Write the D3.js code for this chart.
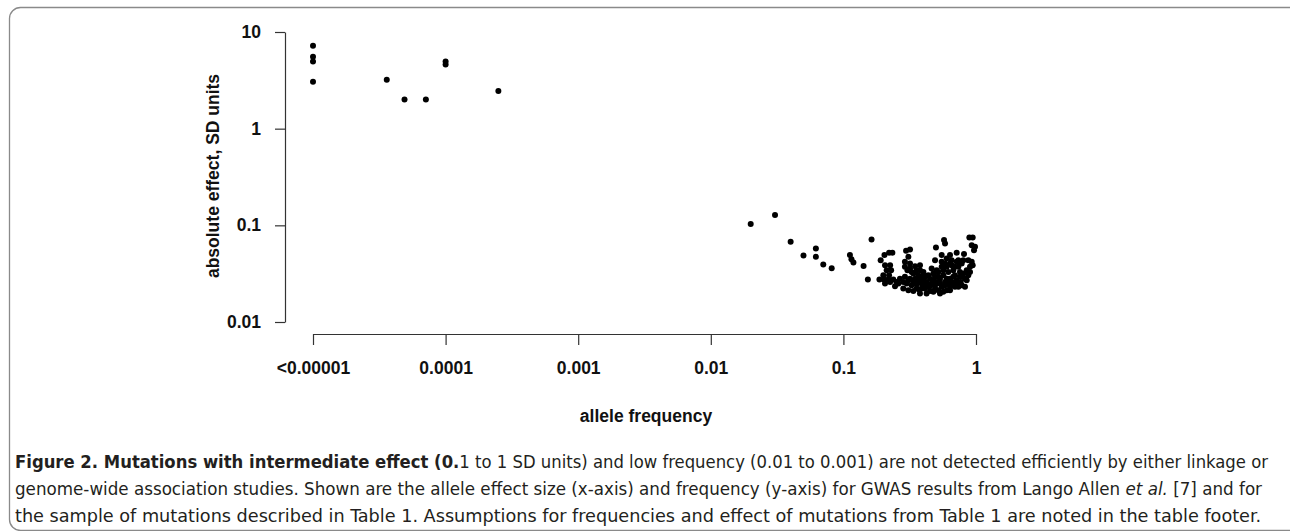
<!DOCTYPE html>
<html>
<head>
<meta charset="utf-8">
<script src="https://cdnjs.cloudflare.com/ajax/libs/d3/7.8.5/d3.min.js"></script>
<style>
  body { margin: 0; background: #fff; }
  .tick text { font-family: "Liberation Sans", Arial, sans-serif; font-weight: bold; font-size: 17.5px; fill: #111; }
  .axis_title { font-family: "Liberation Sans", Arial, sans-serif; font-weight: bold; font-size: 17.5px; fill: #111; }
  .caption { font-family: "DejaVu Sans Condensed", "Liberation Sans Narrow", sans-serif; font-size: 18.5px; fill: #231f20; }
</style>
</head>
<body>
<div id="chart"></div>
<script>
var width = 1290;
var height = 531;

// mutations from Table 1
var mutFreq = [1e-5, 1e-5, 1e-5, 1e-5, 3.6e-5, 4.9e-5, 7.1e-5, 1e-4, 1e-4, 2.5e-4];
var mutEffect = [7.2, 5.55, 4.95, 3.05, 3.2, 2.0, 2.0, 4.95, 4.6, 2.45];

// GWAS results (Lango Allen et al.)
var gwasFreq = [
  0.020, 0.0305, 0.040, 0.050, 0.062, 0.062, 0.0705, 0.0816, 0.112, 0.115, 0.119, 0.142, 0.163, 0.153,
  0.191, 0.204, 0.221, 0.234, 0.206, 0.225, 0.212, 0.229, 0.187, 0.202, 0.218, 0.238, 0.206, 0.225, 0.245, 0.260, 0.200, 0.221,
  0.297, 0.318, 0.309, 0.291, 0.318, 0.347, 0.304, 0.327, 0.357, 0.378, 0.401, 0.291, 0.318, 0.347, 0.378, 0.412,
  0.300, 0.327, 0.357, 0.389, 0.424, 0.283, 0.309, 0.337, 0.374, 0.412, 0.450, 0.491,
  0.499, 0.574, 0.584, 0.491, 0.551, 0.601, 0.655, 0.715, 0.715, 0.812, 0.891, 0.944, 0.928, 0.966, 0.983,
  0.928, 0.901, 0.851, 0.802, 0.757, 0.715, 0.674, 0.637, 0.601, 0.567, 0.520, 0.477, 0.520, 0.567, 0.618,
  0.674, 0.736, 0.780, 0.463, 0.505, 0.551, 0.601, 0.655, 0.694, 0.637, 0.584, 0.535, 0.491, 0.450, 0.766,
  0.826, 0.875, 0.826, 0.736, 0.437, 0.401, 0.378, 0.424, 0.584, 0.674, 0.802, 0.875, 0.551, 0.637,
  0.450, 0.491, 0.535, 0.601, 0.655, 0.715, 0.618, 0.551, 0.505, 0.463, 0.424, 0.389, 0.357, 0.401, 0.367,
  0.337, 0.309, 0.283, 0.267, 0.252, 0.780, 0.851, 0.901, 0.944, 0.757, 0.694, 0.567, 0.520, 0.477, 0.401,
  0.367, 0.337, 0.318, 0.291, 0.378, 0.637, 0.584, 0.736, 0.637, 0.694, 0.477, 0.535, 0.780
];
var gwasEffect = [
  0.103, 0.128, 0.0676, 0.0488, 0.0577, 0.0472, 0.0394, 0.036, 0.0492, 0.0447, 0.0413, 0.038, 0.0715, 0.0275,
  0.0436, 0.0492, 0.0520, 0.0520, 0.0387, 0.0387, 0.0343, 0.0343, 0.0275, 0.0275, 0.0275, 0.0275, 0.0250, 0.0260, 0.0234, 0.0250, 0.0305, 0.0305,
  0.0545, 0.0563, 0.0472, 0.0419, 0.0403, 0.0378, 0.0343, 0.0330, 0.0343, 0.0343, 0.0330, 0.0293, 0.0281, 0.0281, 0.0293, 0.0293,
  0.0250, 0.0240, 0.0246, 0.0250, 0.0260, 0.0222, 0.0213, 0.0209, 0.0216, 0.0222, 0.0209, 0.0222,
  0.0590, 0.0704, 0.0650, 0.0436, 0.0419, 0.0454, 0.0436, 0.0419, 0.0520, 0.0504, 0.0750, 0.0750, 0.0624, 0.0554, 0.0600,
  0.0419, 0.0372, 0.0343, 0.0317, 0.0293, 0.0270, 0.0250, 0.0231, 0.0213, 0.0205, 0.0213, 0.0270, 0.0293, 0.0305, 0.0330,
  0.0343, 0.0372, 0.0403, 0.0357, 0.0343, 0.0372, 0.0372, 0.0387, 0.0305, 0.0281, 0.0260, 0.0250, 0.0240, 0.0234, 0.0260,
  0.0281, 0.0305, 0.0231, 0.0231, 0.0305, 0.0270, 0.0197, 0.0197, 0.0240, 0.0293, 0.0436, 0.0436, 0.0492, 0.0492,
  0.0281, 0.0293, 0.0281, 0.0281, 0.0260, 0.0250, 0.0250, 0.0231, 0.0260, 0.0250, 0.0231, 0.0222, 0.0222, 0.0240, 0.0270,
  0.0260, 0.0270, 0.0260, 0.0281, 0.0260, 0.0293, 0.0270, 0.0330, 0.0387, 0.0330, 0.0372, 0.0343, 0.0330, 0.0317, 0.0305,
  0.0305, 0.0317, 0.0357, 0.0372, 0.0387, 0.0403, 0.0403, 0.0436, 0.0213, 0.0231, 0.0205, 0.0197, 0.0240
];

var xTicks = [1e-5, 1e-4, 1e-3, 1e-2, 1e-1, 1];
var xTickLabels = ['<0.00001', '0.0001', '0.001', '0.01', '0.1', '1'];
var yTicks = [0.01, 0.1, 1, 10];
var yTickLabels = ['0.01', '0.1', '1', '10'];

var points = [];
mutFreq.forEach(function(f, i) { points.push({ freq: f, effect: mutEffect[i] }); });
gwasFreq.forEach(function(f, i) { points.push({ freq: f, effect: gwasEffect[i] }); });

var svg = d3.select('#chart').append('svg')
  .attr('width', width)
  .attr('height', height);

// frame round the figure
svg.append('rect')
  .attr('x', 9.5)
  .attr('y', 7.5)
  .attr('width', 1300)
  .attr('height', 523)
  .attr('rx', 11)
  .attr('fill', 'none')
  .attr('stroke', '#8a8a8a')
  .attr('stroke-width', 1.3);

var xScale = d3.scaleLog()
  .domain([1e-5, 1])
  .range([313, 976]);

var yScale = d3.scaleLog()
  .domain([0.01, 10])
  .range([322, 32]);

var xAxis = d3.axisBottom(xScale)
  .tickValues(xTicks)
  .tickFormat(function(d, i) { return xTickLabels[i]; })
  .tickSize(11)
  .tickSizeOuter(0)
  .tickPadding(17);

var yAxis = d3.axisLeft(yScale)
  .tickValues(yTicks)
  .tickFormat(function(d, i) { return yTickLabels[i]; })
  .tickSize(10)
  .tickSizeOuter(0)
  .tickPadding(14);

var gx = svg.append('g')
  .attr('transform', 'translate(0,334)')
  .call(xAxis);

var gy = svg.append('g')
  .attr('transform', 'translate(285,0)')
  .call(yAxis);

[gx, gy].forEach(function(g) {
  g.select('.domain').attr('stroke', '#333').attr('stroke-width', 1.2);
  g.selectAll('.tick line').attr('stroke', '#333').attr('stroke-width', 1.2);
  g.selectAll('.tick text').attr('font-family', null).attr('font-size', null);
});

// points
svg.append('g')
  .selectAll('circle')
  .data(points)
  .enter()
  .append('circle')
  .attr('cx', function(d) { return xScale(d.freq); })
  .attr('cy', function(d) { return yScale(d.effect); })
  .attr('r', 3)
  .attr('fill', '#000');

// axis titles
svg.append('text')
  .attr('class', 'axis_title')
  .attr('text-anchor', 'middle')
  .attr('x', 646)
  .attr('y', 422)
  .text('allele frequency');

svg.append('text')
  .attr('class', 'axis_title')
  .attr('text-anchor', 'middle')
  .attr('transform', 'translate(219,176) rotate(-90)')
  .text('absolute effect, SD units');

// caption
var cap1 = svg.append('text').attr('class', 'caption').attr('x', 15).attr('y', 468)
  .attr('textLength', 1253).attr('lengthAdjust', 'spacingAndGlyphs');
cap1.append('tspan').attr('font-weight', 'bold').text('Figure 2. Mutations with intermediate effect (0.');
cap1.append('tspan').text('1 to 1 SD units) and low frequency (0.01 to 0.001) are not detected efficiently by either linkage or');

var cap2 = svg.append('text').attr('class', 'caption').attr('x', 15).attr('y', 495)
  .attr('textLength', 1247).attr('lengthAdjust', 'spacingAndGlyphs');
cap2.append('tspan').text('genome-wide association studies. Shown are the allele effect size (x-axis) and frequency (y-axis) for GWAS results from Lango Allen ');
cap2.append('tspan').attr('font-style', 'italic').text('et al.');
cap2.append('tspan').text(' [7] and for');

svg.append('text').attr('class', 'caption').attr('x', 15).attr('y', 522)
  .attr('textLength', 1246).attr('lengthAdjust', 'spacingAndGlyphs')
  .text('the sample of mutations described in Table 1. Assumptions for frequencies and effect of mutations from Table 1 are noted in the table footer.');
</script>
</body>
</html>
